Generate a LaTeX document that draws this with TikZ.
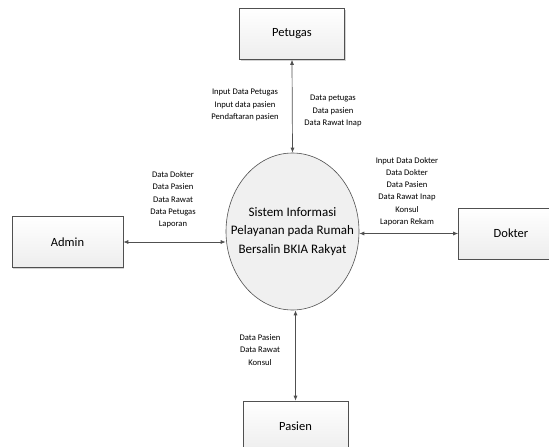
\documentclass[tikz,border=0pt]{standalone}
\usepackage{fontspec}
\setmainfont{Carlito}
\usetikzlibrary{shapes.geometric,arrows.meta,shadows}

\definecolor{linegray}{RGB}{80,80,80}

\tikzstyle{entity}=[rectangle,draw=linegray,line width=0.6pt,top color=white,bottom color=gray!14,
  minimum width=105pt,minimum height=51pt,inner sep=0pt,font=\fontsize{12.5}{14}\selectfont,
  drop shadow={shadow xshift=1pt,shadow yshift=-1.2pt,opacity=0.35}]
\tikzstyle{process}=[ellipse,draw=linegray,line width=0.6pt,fill=gray!12,minimum width=133pt,
  minimum height=157pt,inner xsep=-40pt,inner ysep=0pt,align=center,
  font=\fontsize{13}{18.5}\selectfont]
\tikzstyle{flow}=[draw=linegray,line width=0.7pt,{Latex[length=5pt,width=4pt]}-{Latex[length=5pt,width=4pt]}]
\tikzstyle{flowlabel}=[align=center,inner sep=0pt,font=\fontsize{8.6}{12.3}\selectfont]

\begin{document}
\begin{tikzpicture}[x=1pt,y=-1pt]
     \useasboundingbox (0,0) rectangle (549,447);
     % First we draw the external entities
     \foreach \pos/\name/\text in {{(292,34)/petugas/Petugas}, {(511,233.5)/dokter/Dokter},
       {(295.5,426.5)/pasien/Pasien}}
     \node[entity] (\name) at \pos {\text};

     \node[entity,minimum width=111pt] (admin) at (67.5,242) {Admin};

     % The process in the middle
     \node[process] (sistem) at (292.5,231.5)
       {Sistem Informasi\\Pelayanan pada Rumah\\Bersalin BKIA Rakyat};

     % Connect entities with the process
     \path[flow] (petugas.south) -- (sistem.north);
     \path[flow] (admin.east) -- (admin.east -| sistem.west);
     \path[flow] (dokter.west) -- (dokter.west -| sistem.east);
     \path[flow] (pasien.north) -- (pasien.north |- sistem.south);

     % Data flow labels
     \node[flowlabel] (petugasin) at (245,105)
       {Input Data Petugas\\Input data pasien\\Pendaftaran pasien};
     \node[flowlabel] (petugasout) at (333,111)
       {Data petugas\\Data pasien\\Data Rawat Inap};
     \node[flowlabel] (adminflow) at (173,200)
       {Data Dokter\\Data Pasien\\Data Rawat\\Data Petugas\\Laporan};
     \node[flowlabel] (dokterflow) at (407,191.5)
       {Input Data Dokter\\Data Dokter\\Data Pasien\\Data Rawat Inap\\Konsul\\Laporan Rekam};
     \node[flowlabel] (pasienflow) at (260,350)
       {Data Pasien\\Data Rawat\\Konsul};
   \end{tikzpicture}
\end{document}
